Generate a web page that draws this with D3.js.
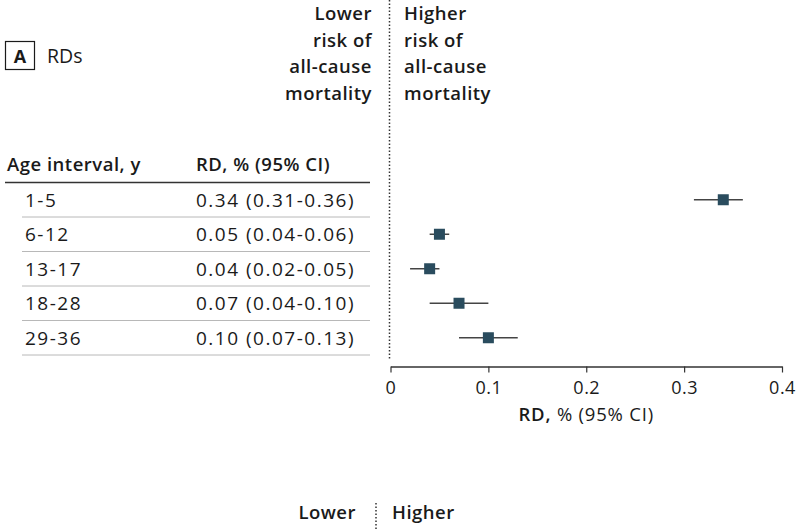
<!DOCTYPE html>
<html><head><meta charset="utf-8">
<script src="https://cdn.jsdelivr.net/npm/d3@7"></script>
<style>
body{margin:0;background:#fff;}
text{font-family:"Open Sans","Noto Sans",sans-serif;fill:#1a1a1a;}
</style></head><body>
<svg id="c" width="800" height="529"></svg>
<script>
const ageIntervals = ["1-5","6-12","13-17","18-28","29-36"];
const rdValues = [0.34,0.05,0.04,0.07,0.10];
const ciLower = [0.31,0.04,0.02,0.04,0.07];
const ciUpper = [0.36,0.06,0.05,0.10,0.13];
const rdLabels = ["0.34 (0.31-0.36)","0.05 (0.04-0.06)","0.04 (0.02-0.05)","0.07 (0.04-0.10)","0.10 (0.07-0.13)"];
const xTicks = [0,0.1,0.2,0.3,0.4];
const lowerLabel = ["Lower","risk of","all-cause","mortality"];
const higherLabel = ["Higher","risk of","all-cause","mortality"];

const svg = d3.select("#c");
const x = d3.scaleLinear().domain([0,0.4]).range([390.5,782]);
const y = d3.scaleBand().domain(ageIntervals).range([182.5,355]);
const BOLD = 600;

// panel label
svg.append("rect").attr("x",5.5).attr("y",41.5).attr("width",29).attr("height",28)
  .attr("fill","none").attr("stroke","#1a1a1a").attr("stroke-width",1.2);
svg.append("text").attr("x",20).attr("y",62.5).attr("text-anchor","middle")
  .attr("font-weight","bold").attr("font-size",18).text("A");
svg.append("text").attr("x",47).attr("y",63).attr("font-size",19.5).text("RDs");

// direction labels
const lh = 26.5;
svg.append("g").selectAll("text").data(lowerLabel).join("text")
  .attr("x",372).attr("y",(d,i)=>20+i*lh).attr("text-anchor","end")
  .attr("font-size",18.5).attr("font-weight",BOLD).attr("letter-spacing",0.5).text(d=>d);
svg.append("g").selectAll("text").data(higherLabel).join("text")
  .attr("x",404).attr("y",(d,i)=>20+i*lh)
  .attr("font-size",18.5).attr("font-weight",BOLD).attr("letter-spacing",0.5).text(d=>d);

// null line
svg.append("line").attr("x1",x(0)-1).attr("x2",x(0)-1).attr("y1",0).attr("y2",359)
  .attr("stroke","#333").attr("stroke-width",1.5).attr("stroke-dasharray","1.5,2");

// table header
svg.append("text").attr("x",7).attr("y",171).attr("font-size",18.5).attr("font-weight",BOLD).attr("letter-spacing",0.5).text("Age interval, y");
svg.append("text").attr("x",196).attr("y",171).attr("font-size",18.5).attr("font-weight",BOLD).attr("letter-spacing",0.5).text("RD, % (95% CI)");
svg.append("line").attr("x1",5).attr("x2",370).attr("y1",182.5).attr("y2",182.5)
  .attr("stroke","#333").attr("stroke-width",1.5);

// row separators
svg.append("g").selectAll("line").data(ageIntervals).join("line")
  .attr("x1",22).attr("x2",370)
  .attr("y1",d=>y(d)+y.bandwidth()).attr("y2",d=>y(d)+y.bandwidth())
  .attr("stroke","#b8b8b8").attr("stroke-width",1);

// row text
svg.append("g").selectAll("text").data(ageIntervals).join("text")
  .attr("x",25).attr("y",d=>y(d)+y.bandwidth()/2+7).attr("font-size",19).attr("letter-spacing",1.5).text(d=>d);
svg.append("g").selectAll("text").data(rdLabels).join("text")
  .attr("x",196).attr("y",(d,i)=>y(ageIntervals[i])+y.bandwidth()/2+7).attr("font-size",19).attr("letter-spacing",1.5).text(d=>d);

// CIs
const g = svg.append("g");
g.selectAll("line.ci").data(ageIntervals).join("line").attr("class","ci")
  .attr("x1",(d,i)=>x(ciLower[i])).attr("x2",(d,i)=>x(ciUpper[i]))
  .attr("y1",d=>y(d)+y.bandwidth()/2).attr("y2",d=>y(d)+y.bandwidth()/2)
  .attr("stroke","#444").attr("stroke-width",1.5);
g.selectAll("rect").data(ageIntervals).join("rect")
  .attr("x",(d,i)=>x(rdValues[i])-5.5).attr("y",d=>y(d)+y.bandwidth()/2-5.5)
  .attr("width",11).attr("height",11).attr("fill","#2a4c5e");

// axis
const ax = svg.append("g").attr("transform","translate(0,366.5)")
  .call(d3.axisBottom(x).tickValues(xTicks).tickFormat(d=>d===0?"0":d3.format(".1f")(d)).tickSize(6).tickSizeOuter(0));
ax.select(".domain").attr("stroke","#333").attr("stroke-width",1.5);
ax.selectAll(".tick line").attr("stroke","#333").attr("stroke-width",1.2);
ax.selectAll(".tick text").attr("font-size",18).attr("font-family",'"Open Sans","Noto Sans",sans-serif')
  .attr("fill","#1a1a1a").attr("letter-spacing",0.5).attr("dy","1.0em");

const t = svg.append("text").attr("x",x(0.2)).attr("y",421).attr("text-anchor","middle").attr("font-size",18.5).attr("letter-spacing",0.8);
t.append("tspan").attr("font-weight",BOLD).text("RD,");
t.append("tspan").text(" % (95% CI)");

// bottom partial panel
svg.append("text").attr("x",356).attr("y",519).attr("text-anchor","end").attr("font-size",18.5).attr("font-weight",BOLD).attr("letter-spacing",0.5).text("Lower");
svg.append("text").attr("x",392).attr("y",519).attr("font-size",18.5).attr("font-weight",BOLD).attr("letter-spacing",0.5).text("Higher");
svg.append("line").attr("x1",376).attr("x2",376).attr("y1",503).attr("y2",529)
  .attr("stroke","#333").attr("stroke-width",1.5).attr("stroke-dasharray","1.5,2");
</script></body></html>
